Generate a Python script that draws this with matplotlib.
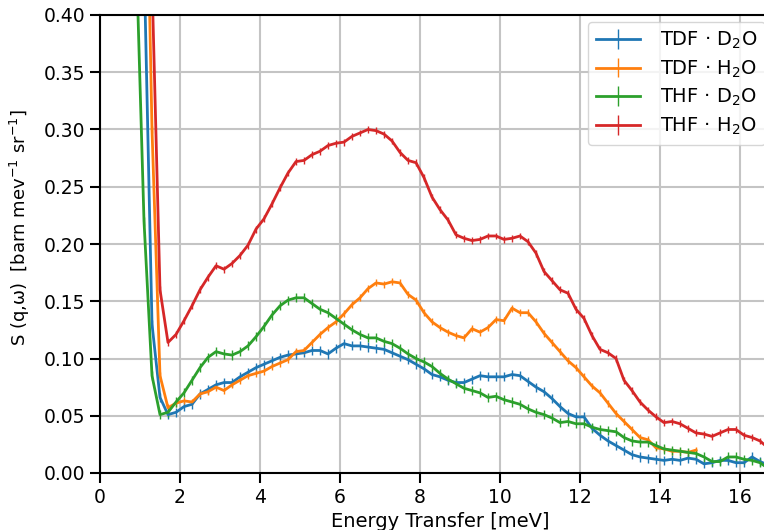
import numpy as np
import matplotlib
matplotlib.use("Agg")
import matplotlib.pyplot as plt

# energy transfer grid [meV]
energy = np.round(np.arange(0.9, 17.0, 0.2), 1)

tdf_d2o = [0.75, 0.45, 0.13, 0.066, 0.051, 0.053, 0.058, 0.060, 0.069, 0.073,
           0.077, 0.079, 0.079, 0.084, 0.088, 0.092, 0.095, 0.098, 0.101, 0.103,
           0.104, 0.105, 0.107, 0.107, 0.104, 0.109, 0.113, 0.111, 0.111, 0.110,
           0.109, 0.108, 0.105, 0.102, 0.099, 0.095, 0.091, 0.086, 0.084, 0.081,
           0.079, 0.079, 0.082, 0.085, 0.084, 0.084, 0.084, 0.086, 0.085, 0.080,
           0.075, 0.071, 0.065, 0.058, 0.052, 0.049, 0.049, 0.039, 0.033, 0.028,
           0.024, 0.020, 0.016, 0.014, 0.013, 0.012, 0.011, 0.012, 0.011, 0.013,
           0.012, 0.008, 0.009, 0.011, 0.011, 0.009, 0.009, 0.014, 0.010, 0.007,
           0.006]

tdf_h2o = [0.80, 0.65, 0.30, 0.085, 0.057, 0.061, 0.063, 0.062, 0.069, 0.071,
           0.075, 0.072, 0.077, 0.081, 0.085, 0.087, 0.089, 0.093, 0.096, 0.099,
           0.106, 0.107, 0.114, 0.121, 0.127, 0.132, 0.139, 0.147, 0.153, 0.161,
           0.166, 0.165, 0.167, 0.166, 0.156, 0.151, 0.140, 0.132, 0.127, 0.123,
           0.120, 0.118, 0.126, 0.123, 0.127, 0.134, 0.133, 0.144, 0.140, 0.140,
           0.132, 0.122, 0.114, 0.106, 0.098, 0.092, 0.084, 0.076, 0.070, 0.061,
           0.052, 0.045, 0.038, 0.031, 0.029, 0.022, 0.021, 0.019, 0.019, 0.018,
           0.020, np.nan, np.nan, np.nan, np.nan, np.nan, np.nan, np.nan, np.nan, np.nan,
           np.nan]

thf_d2o = [0.46, 0.22, 0.085, 0.051, 0.053, 0.062, 0.070, 0.081, 0.092, 0.101,
           0.106, 0.104, 0.103, 0.106, 0.111, 0.119, 0.128, 0.138, 0.146, 0.151,
           0.153, 0.153, 0.148, 0.143, 0.140, 0.135, 0.130, 0.125, 0.121, 0.118,
           0.118, 0.115, 0.113, 0.109, 0.104, 0.100, 0.097, 0.093, 0.087, 0.082,
           0.078, 0.074, 0.072, 0.070, 0.066, 0.067, 0.064, 0.062, 0.060, 0.056,
           0.053, 0.051, 0.048, 0.044, 0.045, 0.043, 0.043, 0.040, 0.038, 0.037,
           0.036, 0.031, 0.028, 0.027, 0.027, 0.024, 0.021, 0.020, 0.019, 0.018,
           0.017, 0.014, 0.010, 0.010, 0.014, 0.014, 0.012, 0.011, 0.009, 0.004,
           0.003]

thf_h2o = [0.60, 0.55, 0.43, 0.160, 0.114, 0.121, 0.133, 0.146, 0.160, 0.171,
           0.181, 0.178, 0.183, 0.190, 0.199, 0.213, 0.222, 0.235, 0.249, 0.262,
           0.272, 0.273, 0.278, 0.281, 0.286, 0.288, 0.289, 0.294, 0.297, 0.300,
           0.299, 0.296, 0.290, 0.280, 0.273, 0.271, 0.258, 0.241, 0.230, 0.221,
           0.208, 0.205, 0.203, 0.204, 0.207, 0.207, 0.204, 0.205, 0.207, 0.202,
           0.192, 0.176, 0.168, 0.160, 0.157, 0.143, 0.135, 0.120, 0.108, 0.105,
           0.100, 0.081, 0.072, 0.062, 0.055, 0.049, 0.044, 0.045, 0.043, 0.039,
           0.035, 0.034, 0.032, 0.035, 0.038, 0.038, 0.033, 0.031, 0.028, 0.022,
           0.018]

labels = ["TDF · D$_2$O", "TDF · H$_2$O", "THF · D$_2$O", "THF · H$_2$O"]
errors = [0.004, 0.003, 0.004, 0.003]

plt.rcParams['font.family'] = ['DejaVu Sans']
fig = plt.figure(figsize=(7.64, 5.30), dpi=100)
ax = fig.add_axes([100 / 764, 57 / 530, 680 / 764, 458 / 530])

for ys, lab, err, col in zip([tdf_d2o, tdf_h2o, thf_d2o, thf_h2o], labels, errors,
                             ['tab:blue', 'tab:orange', 'tab:green', 'tab:red']):
    ax.errorbar(energy, ys, yerr=err, color=col, lw=2, elinewidth=1, label=lab)

ax.set_xlim(0, 17)
ax.set_ylim(0, 0.4)
ax.set_xticks(range(0, 17, 2))
ax.set_yticks(np.arange(0, 0.41, 0.05))
ax.yaxis.set_major_formatter(matplotlib.ticker.FormatStrFormatter('%.2f'))
ax.grid(True, color='#c4c4c4', lw=1.5)
ax.set_axisbelow(True)
ax.tick_params(labelsize=13.5, length=7, width=1.5, direction='out')
for s in ax.spines.values():
    s.set_linewidth(1.5)
ax.set_xlabel("Energy Transfer [meV]", fontsize=14)
ax.set_ylabel("S (q,ω)  [barn mev$^{\\mathregular{-1}}$ sr$^{\\mathregular{-1}}$]", fontsize=13)
ax.yaxis.set_label_coords(-0.1, 0.535)
ax.legend(loc='upper left', bbox_to_anchor=(0.7176, 0.985), borderaxespad=0,
          fontsize=14, handlelength=2.3, handletextpad=1.0, labelspacing=0.38)

fig.savefig("out.png", dpi=100)
